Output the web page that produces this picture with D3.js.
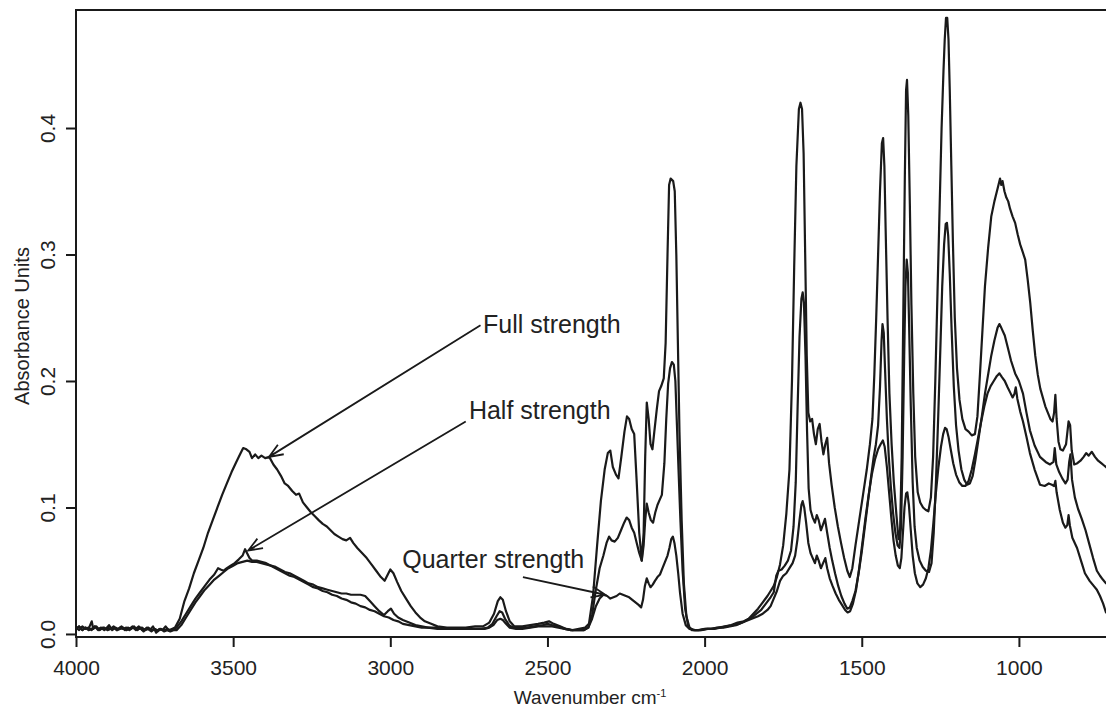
<!DOCTYPE html>
<html>
<head>
<meta charset="utf-8">
<script src="https://cdn.jsdelivr.net/npm/d3@7"></script>
<style>
  html, body { margin: 0; padding: 0; background: #fff; }
  svg { display: block; font-family: "Liberation Sans", Arial, Helvetica, sans-serif; }
</style>
</head>
<body>
<svg id="chart" width="1106" height="711"></svg>
<script>
// IR absorbance spectra, [wavenumber cm^-1, absorbance] pairs
const fullStrength = [
[4000,.004],[3990,.006],[3980,.003],[3970,.005],[3960,.004],[3950,.010],[3945,.004],[3935,.006],[3925,.003],[3915,.005],[3905,.004],[3895,.007],[3885,.003],[3875,.005],[3865,.004],[3855,.006],[3845,.003],[3835,.005],[3825,.004],[3815,.006],[3805,.003],[3795,.005],[3785,.002],[3775,.005],[3765,.003],[3755,.006],[3745,.001],[3735,.004],[3725,.003],[3715,.006],[3705,.003],[3695,.004],[3685,.005],
[3670,.012],[3655,.026],[3640,.036],[3625,.048],[3610,.058],[3595,.068],[3580,.080],[3565,.090],[3550,.100],[3535,.110],[3520,.119],[3505,.128],[3490,.136],[3478,.142],[3468,.147],[3458,.146],[3448,.144],[3440,.139],[3430,.142],[3420,.139],[3410,.141],[3398,.139],[3385,.140],[3372,.134],[3360,.130],[3348,.125],[3336,.119],[3325,.117],[3312,.113],[3300,.110],[3290,.111],[3278,.104],[3265,.100],[3252,.096],[3240,.093],[3228,.090],[3215,.087],[3202,.085],[3190,.082],[3178,.079],[3165,.077],[3152,.075],[3140,.074],[3128,.076],[3118,.072],[3105,.068],[3090,.064],[3075,.060],[3060,.055],[3045,.050],[3030,.045],[3018,.042],[3008,.047],[3000,.051],[2990,.048],[2978,.041],[2965,.034],[2950,.028],[2935,.022],[2920,.017],[2905,.013],[2890,.010],[2870,.008],[2850,.006],[2820,.005],[2790,.005],[2760,.005],[2730,.006],[2705,.006],[2685,.009],[2670,.016],[2658,.026],[2650,.029],[2642,.027],[2632,.018],[2620,.010],[2605,.006],[2580,.006],[2555,.007],[2530,.008],[2510,.009],[2495,.010],[2480,.008],[2460,.006],[2440,.004],[2420,.003],[2400,.004],[2380,.005],[2368,.008],
[2355,.030],[2342,.070],[2330,.105],[2318,.130],[2308,.143],[2300,.145],[2292,.132],[2282,.126],[2274,.123],[2265,.140],[2255,.160],[2247,.172],[2240,.170],[2232,.162],[2224,.158],[2216,.120],[2208,.080],[2200,.058],[2194,.080],[2189,.140],[2184,.183],[2178,.170],[2172,.150],[2166,.146],[2160,.160],[2152,.178],[2145,.192],[2138,.196],[2130,.202],[2124,.230],[2118,.300],[2113,.355],[2108,.360],[2100,.358],[2095,.350],[2090,.300],[2085,.230],[2080,.160],[2073,.090],[2066,.040],[2058,.014],[2048,.005],[2035,.003],[2015,.003],[1995,.004],[1975,.004],[1955,.005],[1935,.006],[1915,.007],[1895,.009],[1875,.010],[1860,.012],[1845,.016],[1830,.020],[1815,.025],[1800,.030],[1790,.034],[1780,.038],[1770,.045],[1760,.055],[1750,.070],[1740,.095],[1730,.130],[1722,.200],[1715,.290],[1708,.370],[1700,.415],[1695,.420],[1690,.415],[1685,.380],[1680,.300],[1675,.220],[1670,.175],[1664,.168],[1658,.170],[1652,.158],[1646,.150],[1640,.162],[1634,.166],[1628,.152],[1622,.142],[1616,.150],[1610,.155],[1604,.135],[1596,.118],[1586,.100],[1576,.085],[1566,.072],[1556,.060],[1546,.050],[1538,.045],[1530,.052],[1520,.070],[1508,.090],[1496,.110],[1484,.130],[1474,.150],[1466,.170],[1460,.205],[1454,.250],[1448,.300],[1442,.350],[1436,.388],[1432,.392],[1428,.370],[1424,.320],[1418,.250],[1412,.190],[1405,.150],[1398,.120],[1390,.095],[1383,.075],[1378,.082],[1373,.140],[1368,.250],[1363,.360],[1359,.430],[1356,.438],[1352,.410],[1347,.340],[1342,.260],[1336,.190],[1330,.140],[1322,.112],[1314,.104],[1305,.100],[1296,.098],[1288,.097],[1280,.108],[1273,.140],[1266,.200],[1259,.270],[1252,.340],[1246,.400],[1240,.445],[1236,.470],[1232,.487],[1228,.487],[1224,.470],[1220,.430],[1215,.370],[1210,.310],[1204,.250],[1197,.210],[1189,.185],[1180,.170],[1170,.162],[1160,.160],[1150,.157],[1140,.158],[1132,.172],[1124,.205],[1116,.240],[1108,.275],[1098,.305],[1088,.330],[1078,.342],[1068,.352],[1060,.360],[1056,.355],[1052,.358],[1046,.350],[1040,.345],[1034,.342],[1028,.336],[1020,.330],[1012,.325],[1004,.316],[996,.308],[988,.302],[980,.296],[972,.280],[964,.262],[956,.240],[948,.220],[940,.205],[932,.194],[916,.180],[900,.170],[893,.168],[888,.175],[884,.189],[880,.170],[874,.152],[868,.146],[860,.145],[850,.150],[842,.168],[837,.165],[832,.145],[824,.134],[814,.135],[804,.137],[794,.140],[786,.143],[778,.141],[768,.144],[758,.140],[748,.137],[738,.135],[728,.133],[718,.131],[708,.132],[700,.130]
];

const halfStrength = [
[4000,.005],[3990,.003],[3980,.006],[3970,.004],[3960,.005],[3950,.003],[3940,.006],[3930,.004],[3920,.005],[3910,.003],[3900,.005],[3890,.004],[3880,.006],[3870,.003],[3860,.005],[3850,.004],[3840,.005],[3830,.003],[3820,.005],[3810,.004],[3800,.006],[3790,.003],[3780,.004],[3770,.005],[3760,.003],[3750,.004],[3740,.002],[3730,.004],[3720,.003],[3710,.004],[3700,.003],[3690,.004],[3680,.005],
[3665,.010],[3650,.016],[3635,.022],[3620,.028],[3605,.033],[3590,.038],[3575,.043],[3560,.047],[3548,.052],[3540,.051],[3530,.050],[3520,.052],[3508,.054],[3495,.056],[3482,.059],[3470,.062],[3462,.067],[3456,.064],[3448,.060],[3440,.058],[3425,.058],[3410,.057],[3395,.056],[3380,.054],[3365,.053],[3350,.051],[3335,.049],[3320,.048],[3305,.046],[3290,.044],[3275,.042],[3260,.040],[3245,.039],[3230,.037],[3215,.036],[3200,.035],[3185,.034],[3170,.033],[3155,.032],[3140,.032],[3125,.031],[3110,.031],[3095,.031],[3080,.030],[3065,.026],[3050,.022],[3035,.018],[3020,.015],[3008,.018],[2998,.020],[2988,.016],[2975,.013],[2960,.011],[2940,.009],[2920,.007],[2900,.006],[2880,.005],[2860,.005],[2830,.004],[2800,.004],[2770,.004],[2740,.004],[2710,.004],[2690,.005],[2675,.008],[2662,.014],[2652,.018],[2644,.017],[2635,.012],[2622,.007],[2608,.005],[2590,.005],[2565,.005],[2540,.006],[2515,.007],[2500,.008],[2485,.007],[2465,.006],[2445,.004],[2425,.003],[2405,.003],[2385,.003],[2370,.005],[2358,.015],[2346,.035],[2334,.052],[2322,.062],[2312,.072],[2304,.077],[2296,.074],[2286,.073],[2276,.076],[2266,.082],[2256,.088],[2248,.092],[2240,.090],[2232,.084],[2224,.080],[2216,.072],[2208,.064],[2200,.058],[2194,.070],[2189,.090],[2184,.103],[2178,.096],[2171,.090],[2164,.088],[2157,.096],[2150,.102],[2143,.106],[2136,.110],[2128,.135],[2122,.170],[2116,.198],[2110,.210],[2104,.215],[2098,.213],[2093,.200],[2088,.165],[2083,.130],[2077,.090],[2070,.050],[2062,.020],[2052,.006],[2040,.003],[2020,.003],[2000,.004],[1980,.004],[1960,.005],[1940,.005],[1920,.006],[1900,.007],[1880,.009],[1865,.011],[1850,.013],[1835,.016],[1820,.019],[1805,.024],[1790,.029],[1780,.033],[1772,.046],[1765,.050],[1755,.051],[1745,.054],[1735,.058],[1725,.066],[1717,.085],[1710,.120],[1704,.180],[1698,.235],[1692,.265],[1688,.270],[1684,.262],[1679,.220],[1674,.160],[1669,.115],[1663,.098],[1656,.092],[1649,.088],[1643,.094],[1637,.090],[1630,.082],[1624,.086],[1617,.091],[1610,.080],[1602,.068],[1594,.058],[1585,.048],[1575,.038],[1565,.030],[1555,.024],[1546,.020],[1538,.021],[1530,.026],[1520,.034],[1510,.048],[1500,.065],[1490,.085],[1480,.105],[1470,.125],[1462,.140],[1455,.150],[1448,.165],[1442,.195],[1437,.232],[1434,.245],[1430,.238],[1426,.210],[1420,.170],[1414,.140],[1407,.115],[1400,.095],[1393,.080],[1386,.070],[1380,.068],[1375,.085],[1370,.140],[1365,.220],[1361,.275],[1357,.296],[1353,.285],[1349,.240],[1344,.180],[1338,.120],[1332,.085],[1325,.068],[1316,.058],[1306,.053],[1296,.050],[1286,.049],[1278,.056],[1271,.080],[1264,.120],[1257,.170],[1250,.225],[1244,.275],[1238,.308],[1233,.324],[1229,.325],[1225,.315],[1220,.285],[1214,.240],[1207,.195],[1200,.165],[1192,.145],[1183,.130],[1174,.122],[1165,.118],[1156,.119],[1147,.125],[1138,.138],[1128,.155],[1118,.172],[1108,.190],[1098,.205],[1088,.220],[1078,.232],[1068,.242],[1062,.245],[1056,.242],[1045,.236],[1035,.226],[1025,.216],[1012,.206],[1000,.200],[987,.190],[976,.175],[965,.161],[950,.149],[933,.140],[915,.136],[901,.134],[890,.136],[886,.147],[881,.134],[872,.128],[862,.123],[852,.119],[845,.122],[840,.136],[836,.142],[831,.122],[822,.108],[812,.099],[800,.091],[788,.082],[776,.071],[764,.060],[752,.050],[742,.046],[733,.043],[723,.040],[712,.044],[700,.041]
];

const quarterStrength = [
[4000,.004],[3990,.006],[3980,.003],[3970,.005],[3960,.003],[3950,.004],[3940,.006],[3930,.003],[3920,.004],[3910,.005],[3900,.003],[3890,.004],[3880,.005],[3870,.003],[3860,.004],[3850,.005],[3840,.003],[3830,.004],[3820,.006],[3810,.003],[3800,.004],[3790,.005],[3780,.003],[3770,.004],[3760,.002],[3750,.004],[3740,.003],[3730,.004],[3720,.002],[3710,.003],[3700,.002],[3690,.003],[3680,.003],
[3665,.007],[3650,.013],[3635,.019],[3620,.025],[3605,.030],[3590,.035],[3575,.039],[3560,.043],[3545,.046],[3530,.049],[3515,.052],[3500,.054],[3485,.056],[3470,.057],[3455,.058],[3440,.057],[3425,.057],[3410,.056],[3395,.055],[3380,.054],[3365,.052],[3350,.050],[3335,.048],[3320,.046],[3305,.045],[3290,.043],[3275,.041],[3260,.039],[3245,.037],[3230,.036],[3215,.034],[3200,.033],[3185,.031],[3170,.030],[3155,.028],[3140,.027],[3125,.025],[3110,.024],[3095,.022],[3080,.021],[3065,.019],[3050,.018],[3035,.016],[3020,.014],[3005,.013],[2990,.011],[2975,.010],[2960,.008],[2940,.007],[2920,.006],[2900,.005],[2880,.005],[2850,.004],[2820,.004],[2790,.004],[2760,.004],[2730,.004],[2700,.004],[2685,.005],[2672,.007],[2660,.011],[2650,.012],[2642,.011],[2632,.008],[2620,.005],[2600,.004],[2580,.004],[2555,.005],[2530,.006],[2505,.006],[2485,.006],[2465,.005],[2445,.004],[2425,.003],[2405,.003],[2385,.003],[2370,.005],[2358,.012],[2346,.022],[2334,.028],[2322,.031],[2310,.030],[2300,.028],[2290,.029],[2280,.030],[2270,.032],[2260,.031],[2250,.030],[2240,.029],[2230,.027],[2220,.025],[2210,.023],[2202,.021],[2196,.027],[2190,.038],[2184,.044],[2178,.040],[2172,.037],[2165,.039],[2158,.042],[2150,.045],[2142,.047],[2134,.052],[2126,.057],[2118,.062],[2112,.068],[2106,.075],[2101,.077],[2096,.072],[2090,.062],[2084,.048],[2078,.032],[2070,.016],[2060,.007],[2048,.004],[2030,.003],[2010,.003],[1990,.004],[1970,.004],[1950,.005],[1930,.006],[1910,.007],[1890,.008],[1870,.010],[1850,.012],[1830,.014],[1815,.016],[1800,.019],[1790,.022],[1780,.028],[1770,.034],[1760,.042],[1750,.046],[1740,.048],[1730,.052],[1720,.056],[1712,.062],[1705,.074],[1698,.090],[1692,.102],[1688,.105],[1683,.100],[1677,.088],[1670,.072],[1663,.064],[1656,.060],[1649,.056],[1643,.062],[1637,.058],[1630,.052],[1623,.056],[1616,.060],[1610,.052],[1602,.044],[1593,.038],[1583,.032],[1573,.027],[1563,.023],[1553,.019],[1545,.017],[1537,.018],[1528,.024],[1518,.035],[1508,.052],[1498,.072],[1488,.092],[1478,.110],[1468,.126],[1458,.138],[1448,.146],[1440,.150],[1433,.153],[1427,.148],[1420,.132],[1413,.112],[1406,.092],[1399,.074],[1392,.062],[1385,.054],[1379,.052],[1374,.060],[1369,.080],[1364,.100],[1359,.111],[1355,.112],[1350,.102],[1344,.082],[1338,.062],[1331,.048],[1323,.040],[1314,.037],[1305,.039],[1296,.044],[1288,.052],[1280,.066],[1272,.088],[1264,.112],[1256,.132],[1248,.148],[1241,.158],[1235,.163],[1230,.162],[1224,.156],[1217,.146],[1209,.135],[1200,.126],[1190,.120],[1180,.117],[1170,.117],[1160,.121],[1150,.130],[1140,.142],[1130,.155],[1120,.168],[1110,.180],[1100,.190],[1090,.196],[1080,.200],[1070,.204],[1062,.206],[1054,.203],[1045,.200],[1036,.195],[1028,.191],[1020,.187],[1014,.190],[1010,.195],[1005,.186],[996,.176],[987,.168],[976,.156],[965,.143],[950,.130],[933,.118],[918,.117],[905,.119],[895,.118],[888,.117],[884,.121],[880,.112],[870,.098],[860,.088],[852,.084],[846,.086],[842,.094],[838,.086],[830,.076],[815,.068],[800,.056],[790,.048],[775,.042],[762,.038],[752,.035],[742,.030],[732,.024],[723,.017],[712,.015],[700,.013]
];

const xTicks = [4000, 3500, 3000, 2500, 2000, 1500, 1000];
const yTicks = [0.0, 0.1, 0.2, 0.3, 0.4];

// labels with their text anchor and arrow tip, in data units
const labels = [
  { text: "Full strength",    at: [2705, 0.238], from: [2713, 0.244], tip: [3386, 0.140] },
  { text: "Half strength",    at: [2750, 0.170], from: [2760, 0.168], tip: [3452, 0.066] },
  { text: "Quarter strength", at: [2962, 0.052], from: [2578, 0.045], tip: [2316, 0.031] }
];

const svg = d3.select("#chart");
const ink = "#1a1a1a";

const x = d3.scaleLinear().domain([4000, 700]).range([76, 1113.2]);
const y = d3.scaleLinear().domain([-0.0024, 0.4933]).range([637, 10]);

// plot box
svg.append("rect")
  .attr("x", x.range()[0]).attr("y", y.range()[1])
  .attr("width", x.range()[1] - x.range()[0])
  .attr("height", y.range()[0] - y.range()[1])
  .attr("fill", "none").attr("stroke", ink).attr("stroke-width", 2);

// x axis
const xAxis = svg.append("g")
  .attr("transform", `translate(0,${y.range()[0]})`)
  .call(d3.axisBottom(x).tickValues(xTicks).tickFormat(d3.format("d")).tickSize(10).tickPadding(13));
xAxis.select(".domain").remove();
xAxis.selectAll(".tick line").attr("stroke", ink).attr("stroke-width", 2);
xAxis.selectAll(".tick text").attr("fill", "#222").style("font-size", "21px")
  .style("font-family", "'Liberation Sans', Arial, sans-serif");

// y axis with vertical labels
const yAxis = svg.append("g")
  .attr("transform", `translate(${x.range()[0]},0)`)
  .call(d3.axisLeft(y).tickValues(yTicks).tickFormat(d3.format(".1f")).tickSize(10));
yAxis.select(".domain").remove();
yAxis.selectAll(".tick line").attr("stroke", ink).attr("stroke-width", 2);
yAxis.selectAll(".tick text")
  .attr("x", null).attr("dy", null)
  .attr("transform", "translate(-29,0) rotate(-90)")
  .attr("text-anchor", "middle")
  .attr("dominant-baseline", "central")
  .attr("fill", "#222").style("font-size", "21px")
  .style("font-family", "'Liberation Sans', Arial, sans-serif");

// axis titles
const xt = svg.append("text")
  .attr("x", 590).attr("y", 704)
  .attr("text-anchor", "middle").attr("fill", "#222")
  .style("font-size", "19px");
xt.append("tspan").text("Wavenumber cm");
xt.append("tspan").attr("dy", -7).style("font-size", "11px").text("-1");

svg.append("text")
  .attr("transform", "translate(22,326) rotate(-90)")
  .attr("text-anchor", "middle").attr("dominant-baseline", "central")
  .attr("fill", "#222").style("font-size", "20px")
  .text("Absorbance Units");

// spectra
const clipId = "plotArea";
svg.append("clipPath").attr("id", clipId).append("rect")
  .attr("x", x.range()[0]).attr("y", y.range()[1])
  .attr("width", x.range()[1] - x.range()[0])
  .attr("height", y.range()[0] - y.range()[1]);

const line = d3.line().x(d => x(d[0])).y(d => y(d[1]));
const spectra = [fullStrength, halfStrength, quarterStrength];
svg.append("g").attr("clip-path", `url(#${clipId})`)
  .selectAll("path").data(spectra).join("path")
  .attr("d", line)
  .attr("fill", "none").attr("stroke", ink)
  .attr("stroke-width", 2.2).attr("stroke-linejoin", "round");

// annotations with open arrowheads
const ann = svg.append("g");
labels.forEach(l => {
  const x0 = x(l.from[0]), y0 = y(l.from[1]);
  const x1 = x(l.tip[0]), y1 = y(l.tip[1]);
  const ang = Math.atan2(y1 - y0, x1 - x0);
  const len = 15, spread = 0.38;
  const h1 = [x1 - len * Math.cos(ang - spread), y1 - len * Math.sin(ang - spread)];
  const h2 = [x1 - len * Math.cos(ang + spread), y1 - len * Math.sin(ang + spread)];
  ann.append("path")
    .attr("d", `M${x0},${y0}L${x1},${y1}M${h1[0]},${h1[1]}L${x1},${y1}L${h2[0]},${h2[1]}`)
    .attr("fill", "none").attr("stroke", ink).attr("stroke-width", 1.8);
  ann.append("text")
    .attr("x", x(l.at[0])).attr("y", y(l.at[1]))
    .attr("fill", "#222").style("font-size", "25px")
    .text(l.text);
});
</script>
</body>
</html>
